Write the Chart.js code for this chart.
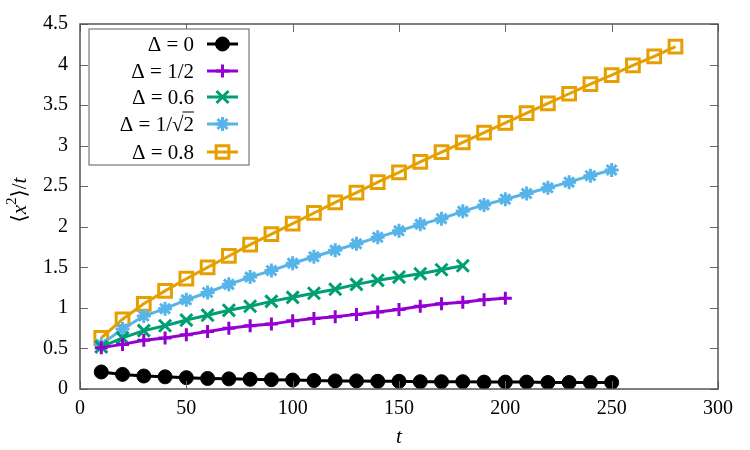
<!DOCTYPE html>
<html><head><meta charset="utf-8">
<script src="https://cdn.jsdelivr.net/npm/chart.js@4/dist/chart.umd.min.js"></script>
<style>html,body{margin:0;padding:0;background:#fff}#wrap{width:750px;height:450px}</style>
</head><body><div id="wrap"><canvas id="c" width="750" height="450"></canvas></div>
<script>
const xTicks = [0, 50, 100, 150, 200, 250, 300];
const yTicks = [0, 0.5, 1, 1.5, 2, 2.5, 3, 3.5, 4, 4.5];
const labels = ["Δ = 0", "Δ = 1/2", "Δ = 0.6", "Δ = 1/√2", "Δ = 0.8"];
const tD0 = [10,20,30,40,50,60,70,80,90,100,110,120,130,140,150,160,170,180,190,200,210,220,230,240,250];
const yD0 = [0.21,0.18,0.16,0.15,0.14,0.13,0.125,0.12,0.115,0.11,0.105,0.10,0.10,0.095,0.095,0.09,0.09,0.09,0.085,0.085,0.085,0.08,0.08,0.08,0.08];
const tD05 = [10,20,30,40,50,60,70,80,90,100,110,120,130,140,150,160,170,180,190,200];
const yD05 = [0.51,0.55,0.60,0.63,0.67,0.71,0.75,0.78,0.80,0.84,0.87,0.89,0.92,0.95,0.98,1.02,1.05,1.07,1.10,1.12];
const tD06 = [10,20,30,40,50,60,70,80,90,100,110,120,130,140,150,160,170,180];
const yD06 = [0.52,0.63,0.72,0.78,0.85,0.91,0.97,1.02,1.08,1.13,1.18,1.23,1.29,1.34,1.38,1.42,1.47,1.52];
const tD07 = [10,20,30,40,50,60,70,80,90,100,110,120,130,140,150,160,170,180,190,200,210,220,230,240,250];
const yD07 = [0.55,0.74,0.90,0.99,1.10,1.19,1.29,1.38,1.46,1.55,1.63,1.71,1.79,1.87,1.95,2.03,2.10,2.19,2.27,2.34,2.41,2.48,2.55,2.63,2.70];
const tD08 = [10,20,30,40,50,60,70,80,90,100,110,120,130,140,150,160,170,180,190,200,210,220,230,240,250,260,270,280];
const yD08 = [0.63,0.86,1.05,1.21,1.36,1.50,1.64,1.78,1.91,2.04,2.17,2.30,2.42,2.55,2.67,2.80,2.92,3.04,3.16,3.28,3.40,3.52,3.64,3.76,3.87,3.99,4.10,4.22];

const FONT = '"Liberation Serif", "DejaVu Serif", serif';
const pts = (xs, ys) => xs.map((x, i) => ({x: x, y: ys[i]}));
const styles = [
  {color: '#000000', pointStyle: 'circle', radius: 7, fill: '#000000', pw: 1},
  {color: '#9400d3', pointStyle: 'cross', radius: 6.5, fill: '#9400d3', pw: 3},
  {color: '#009e73', pointStyle: 'crossRot', radius: 8.5, fill: '#009e73', pw: 3},
  {color: '#56b4e9', pointStyle: 'star', radius: 7, fill: '#56b4e9', pw: 3},
  {color: '#e69f00', pointStyle: 'rect', radius: 9, fill: 'rgba(0,0,0,0)', pw: 3}
];
const series = [pts(tD0,yD0), pts(tD05,yD05), pts(tD06,yD06), pts(tD07,yD07), pts(tD08,yD08)];
const datasets = series.map((d, i) => ({
  label: labels[i], data: d, borderColor: styles[i].color, backgroundColor: styles[i].fill,
  borderWidth: 3, pointStyle: styles[i].pointStyle, pointRadius: styles[i].radius,
  pointBorderWidth: styles[i].pw, pointBorderColor: styles[i].color, pointBackgroundColor: styles[i].fill,
  pointHoverRadius: styles[i].radius, tension: 0, fill: false
}));

const deco = {
  id: 'deco',
  afterDraw(chart) {
    const ctx = chart.ctx, a = chart.chartArea, xs = chart.scales.x, ys = chart.scales.y;
    ctx.save();
    ctx.strokeStyle = '#666'; ctx.lineWidth = 1;
    ctx.beginPath();
    yTicks.forEach(v => { const p = Math.round(ys.getPixelForValue(v)) + 0.5;
      ctx.moveTo(a.left, p); ctx.lineTo(a.left + 8, p); ctx.moveTo(a.right, p); ctx.lineTo(a.right - 8, p); });
    xTicks.forEach(v => { const p = Math.round(xs.getPixelForValue(v)) + 0.5;
      ctx.moveTo(p, a.bottom); ctx.lineTo(p, a.bottom - 8); ctx.moveTo(p, a.top); ctx.lineTo(p, a.top + 8); });
    ctx.stroke();
    ctx.strokeStyle = '#555'; ctx.lineWidth = 1.5;
    ctx.strokeRect(a.left, a.top, a.right - a.left, a.bottom - a.top);
    const bx = 89, by = 29, bw = 160, bh = 136;
    ctx.fillStyle = '#fff'; ctx.fillRect(bx, by, bw, bh);
    ctx.strokeStyle = '#777'; ctx.lineWidth = 1.2; ctx.strokeRect(bx, by, bw, bh);
    const rows = [44, 71, 97, 124, 152];
    ctx.font = '21px ' + FONT; ctx.textBaseline = 'middle'; ctx.textAlign = 'right';
    datasets.forEach((ds, i) => {
      const y = rows[i];
      ctx.fillStyle = '#000';
      ctx.fillText(labels[i], 194, y + 1);
      if (i === 3) {
        const w2 = ctx.measureText('2').width;
        ctx.strokeStyle = '#000'; ctx.lineWidth = 1;
        ctx.beginPath(); ctx.moveTo(194 - w2 - 1, y - 12); ctx.lineTo(194, y - 12); ctx.stroke();
      }
      ctx.strokeStyle = ds.borderColor; ctx.lineWidth = 3;
      ctx.beginPath(); ctx.moveTo(207, y); ctx.lineTo(238, y); ctx.stroke();
      if (Chart.helpers && Chart.helpers.drawPoint) {
        ctx.strokeStyle = ds.pointBorderColor; ctx.fillStyle = ds.pointBackgroundColor; ctx.lineWidth = ds.pointBorderWidth;
        Chart.helpers.drawPoint(ctx, {pointStyle: ds.pointStyle, radius: ds.pointRadius, rotation: 0, borderWidth: ds.pointBorderWidth}, 222.5, y);
      }
    });
    ctx.fillStyle = '#000';
    ctx.font = 'italic 21px ' + FONT; ctx.textAlign = 'center'; ctx.textBaseline = 'middle';
    ctx.fillText('t', (a.left + a.right) / 2, 437);
    ctx.translate(20, 200); ctx.rotate(-Math.PI / 2);
    const parts = [['⟨', '21px ', 0], ['x', 'italic 21px ', 0], ['2', '15px ', -8], ['⟩/', '21px ', 0], ['t', 'italic 21px ', 0]];
    let tw = 0; parts.forEach(p => { ctx.font = p[1] + FONT; tw += ctx.measureText(p[0]).width; });
    let cx = -tw / 2; ctx.textAlign = 'left';
    parts.forEach(p => { ctx.font = p[1] + FONT; ctx.fillText(p[0], cx, p[2]); cx += ctx.measureText(p[0]).width; });
    ctx.restore();
  }
};

new Chart(document.getElementById('c'), {
  type: 'line',
  data: {datasets: datasets},
  options: {
    responsive: false, animation: false, devicePixelRatio: 1,
    layout: {padding: {left: 0, right: 32, top: 22, bottom: 0}},
    plugins: {legend: {display: false}, tooltip: {enabled: false}},
    scales: {
      x: {type: 'linear', min: 0, max: 300,
        afterFit: s => { s.height = 61; },
        afterBuildTicks: s => { s.ticks = xTicks.map(v => ({value: v})); },
        grid: {display: false, drawTicks: false}, border: {display: false},
        ticks: {color: '#000', font: {family: FONT, size: 20}, padding: 8, maxRotation: 0, callback: v => String(v)}},
      y: {type: 'linear', min: 0, max: 4.5,
        afterFit: s => { s.width = 80; },
        afterBuildTicks: s => { s.ticks = yTicks.map(v => ({value: v})); },
        grid: {display: false, drawTicks: false}, border: {display: false},
        ticks: {color: '#000', font: {family: FONT, size: 20}, padding: 12, callback: v => String(v)}}
    }
  },
  plugins: [deco]
});
</script></body></html>
